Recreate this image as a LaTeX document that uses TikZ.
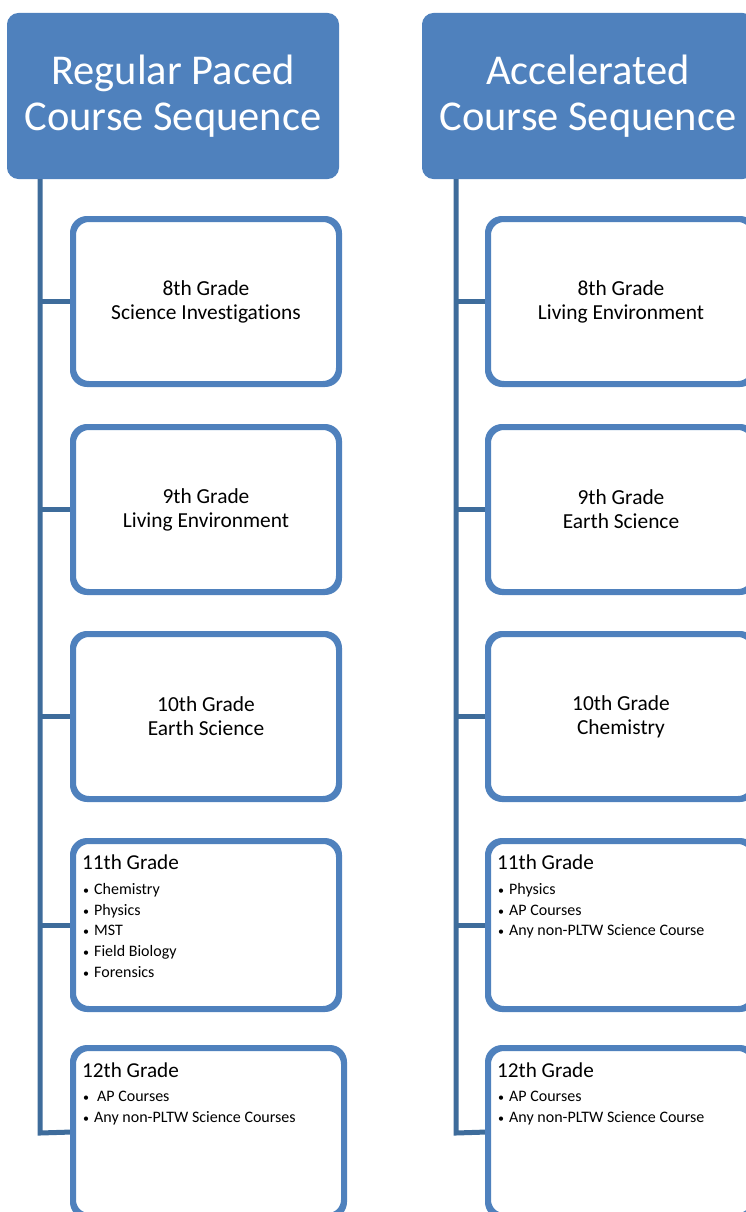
\documentclass[tikz,border=0pt]{standalone}
\usepackage{fontspec}
\setmainfont[Ligatures=NoCommon]{Carlito}
\definecolor{hdr}{HTML}{4F81BD}
\definecolor{spine}{HTML}{3E6C9B}
\begin{document}
\begin{tikzpicture}[x=1pt,y=-1pt,
  header/.style={rectangle,rounded corners=11pt,fill=hdr,draw=hdr,line width=1pt,
    minimum width=331pt,minimum height=165pt,text=white,align=center,
    font=\fontsize{42.5}{46}\selectfont,inner sep=0pt},
  gradebox/.style={rectangle,rounded corners=15pt,draw=hdr,line width=4pt,fill=white,
    minimum width=264pt,minimum height=163pt,align=center,
    font=\fontsize{21.4}{24}\selectfont,inner sep=0pt},
  link/.style={draw=spine,line width=5pt},
  gtitle/.style={anchor=base west,inner sep=0pt,font=\fontsize{21.2}{23}\selectfont},
  glist/.style={anchor=north west,inner sep=0pt,align=left,font=\fontsize{16}{20.7}\selectfont}
]
\useasboundingbox (0,0) rectangle (746,1212);
\newcommand{\bl}{\makebox[11pt][l]{\fontsize{12}{12}\selectfont\textbullet}}

% headers
\node[header] (hL) at (173,96) {Regular Paced\\Course Sequence};
\node[header] (hR) at (588,96) {Accelerated\\Course Sequence};

% spine coordinates
\coordinate (sL) at (40,1133);
\coordinate (sR) at (456,1133);

% left boxes
\node[gradebox] (L1) at (206,301.5) {8th Grade\\Science Investigations};
\node[gradebox] (L2) at (206,509.5) {9th Grade\\Living Environment};
\node[gradebox] (L3) at (206,716.5) {10th Grade\\Earth Science};
\node[gradebox,minimum height=166pt] (L4) at (206,925) {};
\node[gradebox,minimum height=166pt,minimum width=269pt] (L5) at (208.5,1132) {};

% right boxes
\node[gradebox] (R1) at (621,301.5) {8th Grade\\Living Environment};
\node[gradebox] (R2) at (621,509.5) {9th Grade\\Earth Science};
\node[gradebox] (R3) at (621,716.5) {10th Grade\\Chemistry};
\node[gradebox,minimum height=166pt] (R4) at (621,925) {};
\node[gradebox,minimum height=166pt] (R5) at (621,1132) {};

% connectors
\draw[link] (hL.south -| sL) -- (sL) -- (L5.west);
\foreach \b in {L1,L2,L3,L4} \draw[link] (\b.west -| sL) -- (\b.west);
\draw[link] (hR.south -| sR) -- (sR) -- (R5.west);
\foreach \b in {R1,R2,R3,R4} \draw[link] (\b.west -| sR) -- (\b.west);

% redraw box borders over link ends
\foreach \b in {L1,L2,L3,L4,L5,R1,R2,R3,R4,R5}
  \draw[draw=hdr,line width=4pt,rounded corners=15pt] (\b.north west) rectangle (\b.south east);

% list texts
\node[gtitle] (L4t) at (82,869) {11th Grade};
\node[glist] (L4l) at (83,883) {\bl Chemistry\\\bl Physics\\\bl MST\\\bl Field Biology\\\bl Forensics};
\node[gtitle] (L5t) at (82,1077) {12th Grade};
\node[glist] (L5l) at (83,1091) {\bl\hspace{3pt}AP Courses\\\bl Any non-PLTW Science Courses};

\node[gtitle] (R4t) at (497,869) {11th Grade};
\node[glist] (R4l) at (498,883) {\bl Physics\\\bl AP Courses\\\bl Any non-PLTW Science Course};
\node[gtitle] (R5t) at (497,1077) {12th Grade};
\node[glist] (R5l) at (498,1091) {\bl AP Courses\\\bl Any non-PLTW Science Course};
\end{tikzpicture}
\end{document}
